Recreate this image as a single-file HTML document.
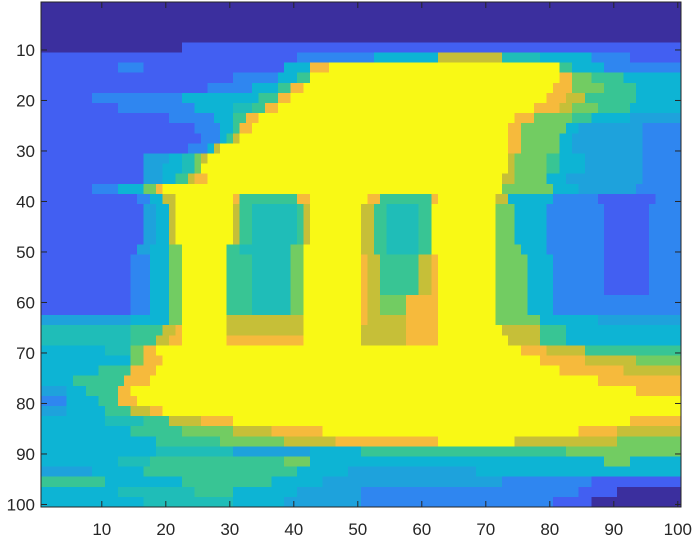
<!DOCTYPE html>
<html><head><meta charset="utf-8"><style>
html,body{margin:0;padding:0;background:#fff;}
svg{display:block;font-family:"Liberation Sans",Arial,sans-serif;}
</style></head><body>
<svg id="chart" width="697" height="539"></svg>
<script>
// Each row string covers 2 image rows; tokens "level@lastColumn" give runs of intensity levels across columns 1..100
const gridRows = [
"0@100","0@100","0@100","0@100",
"0@22 1@100",
"1@40 2@52 4@62 8@72 5@78 4@86 2@92 1@100",
"1@12 2@16 1@38 4@42 9@45 Y@81 6@83 4@88 2@100",
"1@30 2@37 4@40 6@42 Y@81 9@83 7@86 6@91 4@100",
"1@26 2@33 4@37 6@39 9@41 Y@80 9@83 7@88 6@93 4@100",
"1@8 2@22 4@34 6@37 9@39 Y@79 9@82 8@85 6@93 4@100",
"1@12 2@24 4@30 5@33 6@35 9@37 Y@77 9@81 8@83 7@87 6@92 4@100",
"1@20 2@27 4@30 6@32 9@34 Y@74 9@77 7@83 6@86 4@92 3@100",
"1@24 2@28 4@30 6@31 9@33 Y@73 9@75 7@82 4@84 3@94 2@100",
"1@25 2@28 4@29 6@30 8@31 Y@73 9@75 7@81 4@83 3@94 2@100",
"1@23 2@26 4@27 8@28 Y@73 9@75 7@81 4@83 3@94 2@100",
"1@16 3@20 4@22 5@24 7@25 8@26 Y@73 8@74 7@79 6@81 4@85 3@94 2@100",
"1@16 3@19 4@22 5@24 7@25 Y@73 8@74 7@79 6@81 4@85 3@94 2@100",
"1@16 3@19 4@21 6@23 8@24 9@26 Y@72 8@74 7@79 4@82 3@94 2@100",
"1@8 2@12 4@16 7@18 9@19 Y@72 7@80 4@84 3@93 2@100",
"1@15 2@17 4@19 8@21 Y@30 9@31 6@40 9@42 Y@51 9@53 6@61 9@62 Y@71 8@73 4@80 2@87 1@96 2@100",
"1@16 3@18 4@20 8@21 Y@30 8@31 6@33 5@40 6@41 8@42 Y@50 8@52 6@54 5@59 6@61 Y@71 7@74 4@79 2@88 1@95 2@100",
"1@16 3@18 4@20 8@21 Y@30 8@31 6@33 5@40 6@41 8@42 Y@50 8@52 6@54 5@59 6@61 Y@71 7@74 4@79 2@88 1@95 2@100",
"1@16 3@18 4@20 8@21 Y@30 8@31 6@33 5@40 6@41 8@42 Y@50 8@52 6@54 5@59 6@61 Y@71 7@74 4@79 2@88 1@95 2@100",
"1@16 3@18 4@20 8@21 Y@30 8@31 6@33 5@40 6@41 8@42 Y@50 8@52 6@54 5@59 6@61 Y@71 7@74 4@79 2@88 1@95 2@100",
"1@15 3@17 4@20 7@22 Y@29 6@31 5@39 7@41 Y@50 8@52 6@54 5@59 6@61 Y@71 7@75 4@79 2@88 1@95 2@100",
"1@14 2@17 4@20 7@22 Y@29 6@33 5@39 7@41 Y@50 9@51 8@53 6@59 8@61 9@62 Y@71 7@76 4@80 2@88 1@95 2@100",
"1@14 2@17 4@20 7@22 Y@29 6@33 5@39 7@41 Y@50 9@51 8@53 6@59 8@61 9@62 Y@71 7@76 4@80 2@88 1@95 2@100",
"1@14 2@17 4@20 7@22 Y@29 6@33 5@39 7@41 Y@50 9@51 8@53 6@59 8@61 9@62 Y@71 7@76 4@80 2@88 1@95 2@100",
"1@14 2@17 4@20 7@22 Y@29 6@33 5@39 7@41 Y@50 9@51 8@53 6@59 8@61 9@62 Y@71 7@76 4@80 2@88 1@95 2@100",
"1@14 2@17 4@20 7@22 Y@29 6@33 5@39 7@41 Y@50 9@51 8@53 7@57 9@62 Y@71 7@76 4@80 2@100",
"1@14 2@17 4@20 7@22 Y@29 6@33 5@39 7@41 Y@50 9@51 8@53 7@57 9@62 Y@71 7@76 4@80 2@100",
"3@14 4@20 7@22 Y@29 8@41 Y@50 9@51 8@57 9@62 Y@71 7@78 4@87 3@100",
"5@14 6@19 8@21 9@22 Y@29 8@41 Y@50 8@57 9@62 Y@72 8@78 6@82 4@100",
"5@14 6@18 8@20 9@22 Y@29 9@41 Y@50 8@57 9@62 Y@73 8@78 6@82 4@100",
"4@10 5@14 7@16 9@18 Y@75 9@79 8@85 6@100",
"4@14 7@16 9@19 Y@78 9@85 8@93 7@100",
"4@9 6@14 9@18 Y@81 9@91 8@100",
"4@5 6@13 9@17 Y@87 9@100",
"3@4 4@7 6@12 9@14 Y@93 9@100",
"2@4 4@9 6@12 9@15 Y@100",
"3@4 4@10 6@14 8@17 9@19 Y@100",
"4@10 5@16 6@20 8@25 9@30 Y@92 9@100",
"4@14 6@22 7@30 8@36 9@44 Y@84 9@90 8@100",
"4@18 6@28 7@38 8@46 9@62 Y@74 8@90 7@100",
"4@18 5@30 3@42 4@50 6@82 7@100",
"4@12 5@17 6@38 7@42 4@88 7@92 4@100",
"3@8 4@16 6@40 4@48 3@68 4@100",
"6@10 4@22 6@36 4@44 3@72 2@86 1@100",
"4@12 5@24 6@30 4@40 3@50 2@84 1@90 0@100",
"4@16 5@30 4@38 3@50 2@80 1@86 0@100"
];
const colTicks = [10,20,30,40,50,60,70,80,90,100];
const rowTicks = [10,20,30,40,50,60,70,80,90,100];
const levelColors = {"0":"#3b2f9e","1":"#425ff2","2":"#2f86f0","3":"#1ea2dc","4":"#0db4d4","5":"#1fbdb8","6":"#38c594","7":"#72cc62","8":"#c6bf38","9":"#f6ba3c","Y":"#f9f915"};

const svg = document.getElementById('chart');
const NS = 'http://www.w3.org/2000/svg';
const L = 41, R = 681, T = 2, B = 507;
const nUnits = 100, rowsPerBand = 2;
function xs(u){ return L + (u - 0.5) * (R - L) / nUnits; }
function ys(u){ return T + (u - 0.5) * (B - T) / nUnits; }

const g = document.createElementNS(NS,'g');


g.setAttribute('shape-rendering','crispEdges');
svg.appendChild(g);
gridRows.forEach((row, r) => {
  let start = 1;
  const y0 = ys(r*rowsPerBand + 0.5), y1 = ys((r+1)*rowsPerBand + 0.5);
  row.trim().split(/\s+/).forEach(tok => {
    const [lvl, endStr] = tok.split('@');
    const end = +endStr;
    if (end < start) return;
    const x0 = xs(start - 0.5), x1 = xs(end + 0.5);
    const rect = document.createElementNS(NS,'rect');
    rect.setAttribute('x', x0); rect.setAttribute('y', y0);
    rect.setAttribute('width', x1 - x0 + 0.5); rect.setAttribute('height', y1 - y0 + 0.5);
    rect.setAttribute('fill', levelColors[lvl]);
    
    
    g.appendChild(rect);
    start = end + 1;
  });
});

const frame = document.createElementNS(NS,'rect');
frame.setAttribute('x', L); frame.setAttribute('y', T);
frame.setAttribute('width', R-L); frame.setAttribute('height', B-T);
frame.setAttribute('fill','none'); frame.setAttribute('stroke','#262626'); frame.setAttribute('stroke-width','1');


svg.appendChild(frame);

colTicks.forEach(t => {
  const x = xs(t);
  for (const [ya, yb] of [[B, B-6],[T, T+6]]) {
    const ln = document.createElementNS(NS,'line');
    ln.setAttribute('x1',x); ln.setAttribute('x2',x); ln.setAttribute('y1',ya); ln.setAttribute('y2',yb);
    ln.setAttribute('stroke','#262626');
    
    
    svg.appendChild(ln);
  }
  const tx = document.createElementNS(NS,'text');
  tx.setAttribute('x',x); tx.setAttribute('y',535); tx.setAttribute('text-anchor','middle');
  tx.setAttribute('font-size','17'); tx.setAttribute('fill','#262626');
  tx.textContent = t;
  
  
  svg.appendChild(tx);
});
rowTicks.forEach(t => {
  const y = ys(t);
  for (const [xa, xb] of [[L, L+6],[R, R-6]]) {
    const ln = document.createElementNS(NS,'line');
    ln.setAttribute('x1',xa); ln.setAttribute('x2',xb); ln.setAttribute('y1',y); ln.setAttribute('y2',y);
    ln.setAttribute('stroke','#262626');
    
    
    svg.appendChild(ln);
  }
  const tx = document.createElementNS(NS,'text');
  tx.setAttribute('x',35); tx.setAttribute('y',y+6); tx.setAttribute('text-anchor','end');
  tx.setAttribute('font-size','17'); tx.setAttribute('fill','#262626');
  tx.textContent = t;
  
  
  svg.appendChild(tx);
});
</script>
</body></html>
